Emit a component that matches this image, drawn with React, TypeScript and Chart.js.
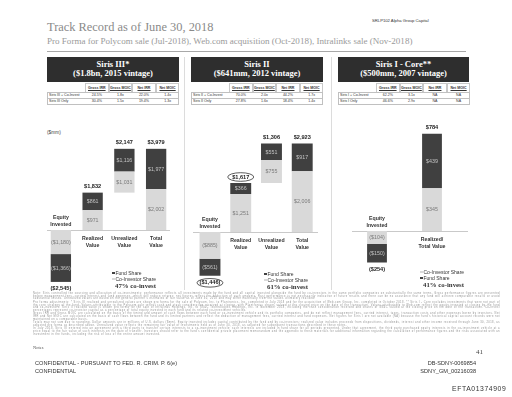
import React, { useEffect, useRef } from "react";
import { Chart, registerables } from "chart.js";
Chart.register(...registerables);

// ---------- DATA ----------
const siris3Categories = ["Equity\nInvested", "Realized\nValue", "Unrealized\nValue", "Total\nValue"];
const siris3CoInvestor = [1180, 971, 1031, 2002];
const siris3Fund = [1366, 861, 1116, 1977];
const siris3Totals = [2545, 1832, 2147, 3979];
const siris3Kinds = ["neg", "up", "float", "up"];

const siris2Categories = ["Equity\nInvested", "Realized\nValue", "Unrealized\nValue", "Total\nValue"];
const siris2CoInvestor = [885, 1251, 755, 2006];
const siris2Fund = [561, 366, 551, 917];
const siris2Totals = [1446, 1617, 1306, 2923];
const siris2Kinds = ["neg", "up", "float", "up"];
const siris2Circled = [true, true, false, false];

const siris1Categories = ["Equity\nInvested", "Realized/\nTotal Value"];
const siris1CoInvestor = [104, 345];
const siris1Fund = [150, 439];
const siris1Totals = [254, 784];
const siris1Kinds = ["neg", "up"];

const tableHeaders = ["Gross IRR", "Gross MOIC", "Net IRR", "Net MOIC"];
const siris3Table = [
  ["Siris III + Co-Invest", "24.5%", "1.8x", "22.0%", "1.4x"],
  ["Siris III Only", "30.4%", "1.5x", "19.4%", "1.3x"],
];
const siris2Table = [
  ["Siris II + Co-Invest", "70.0%", "2.0x", "44.2%", "1.7x"],
  ["Siris II Only", "27.8%", "1.6x", "18.4%", "1.4x"],
];
const siris1Table = [
  ["Siris I + Co-Invest", "62.2%", "3.1x", "NA", "NA"],
  ["Siris I Only", "46.6%", "2.9x", "NA", "NA"],
];

const DARK = "#404040";
const LIGHT = "#d9d9d9";
const SANS = "'Liberation Sans', Arial, sans-serif";
const SERIF = "'Liberation Serif', 'Times New Roman', serif";

const fmt = (n: number) => "$" + n.toLocaleString("en-US");

function buildRanges(co: number[], fund: number[], totals: number[], kinds: string[]) {
  const coR: [number, number][] = [];
  const fundR: [number, number][] = [];
  let running = 0;
  kinds.forEach((k, i) => {
    if (k === "neg") {
      coR.push([-co[i], 0]);
      fundR.push([-totals[i], -co[i]]);
    } else if (k === "float") {
      const b = running;
      coR.push([b, b + co[i]]);
      fundR.push([b + co[i], b + totals[i]]);
    } else {
      coR.push([0, co[i]]);
      fundR.push([co[i], totals[i]]);
      running = totals[i];
    }
  });
  return { coR, fundR };
}

const waterfallPlugin = {
  id: "waterfall",
  beforeDatasetsDraw(chart: any, _a: any, opts: any) {
    const { ctx, scales } = chart;
    const zy = Math.round(scales.y.getPixelForValue(0)) + 0.5;
    ctx.save();
    ctx.strokeStyle = "#c9c9c9";
    ctx.lineWidth = 1;
    ctx.beginPath();
    ctx.moveTo(opts.lineFrom, zy);
    ctx.lineTo(opts.lineTo, zy);
    ctx.stroke();
    ctx.restore();
  },
  afterDatasetsDraw(chart: any, _a: any, opts: any) {
    const { ctx, scales } = chart;
    const zy = scales.y.getPixelForValue(0);
    ctx.save();
    ctx.textAlign = "center";
    ctx.textBaseline = "middle";
    const shares = [opts.co, opts.fund];
    chart.data.datasets.forEach((_ds: any, di: number) => {
      const meta = chart.getDatasetMeta(di);
      meta.data.forEach((bar: any, i: number) => {
        const p = bar.getProps(["x", "y", "base"], true);
        const mid = (p.y + p.base) / 2;
        const v = shares[di][i];
        const t = opts.kinds[i] === "neg" ? "(" + fmt(v) + ")" : fmt(v);
        ctx.font = `5.3px ${SANS}`;
        ctx.fillStyle = di === 0 ? "#7a7a7a" : "#c4c4c4";
        ctx.fillText(t, p.x, mid + 0.3);
      });
    });
    const m0 = chart.getDatasetMeta(0);
    const m1 = chart.getDatasetMeta(1);
    chart.data.labels.forEach((lab: string, i: number) => {
      const b0 = m0.data[i].getProps(["x", "y", "base"], true);
      const b1 = m1.data[i].getProps(["x", "y", "base"], true);
      const top = Math.min(b0.y, b0.base, b1.y, b1.base);
      const bottom = Math.max(b0.y, b0.base, b1.y, b1.base);
      const neg = opts.kinds[i] === "neg";
      const tText = neg ? "(" + fmt(opts.totals[i]) + ")" : fmt(opts.totals[i]);
      const ty = neg ? bottom + 7 : top - 6;
      ctx.font = `bold 5.6px ${SANS}`;
      ctx.fillStyle = "#222";
      ctx.fillText(tText, b0.x, ty);
      if (opts.circled && opts.circled[i]) {
        ctx.strokeStyle = "#333";
        ctx.lineWidth = 0.8;
        ctx.beginPath();
        ctx.ellipse(b0.x, ty, 13, 4.3, 0, 0, Math.PI * 2);
        ctx.stroke();
      }
      const lines = lab.split("\n");
      ctx.font = `bold 5.2px ${SANS}`;
      ctx.fillStyle = "#333";
      const ys = neg ? [zy - 12.5, zy - 5.5] : [zy + 8.5, zy + 15.5];
      lines.forEach((ln, k) => ctx.fillText(ln, b0.x, ys[k]));
    });
    ctx.restore();
  },
};

type Cfg = {
  categories: string[];
  co: number[];
  fund: number[];
  totals: number[];
  kinds: string[];
  circled?: boolean[];
  left: number;
  width: number;
  padL: number;
  padR: number;
  yMin: number;
  yMax: number;
  lineFrom: number;
  lineTo: number;
  barPct: number;
};

const CANVAS_TOP = 110;
const CANVAS_H = 190;

function Waterfall({ cfg }: { cfg: Cfg }) {
  const ref = useRef<HTMLCanvasElement>(null);
  useEffect(() => {
    const { coR, fundR } = buildRanges(cfg.co, cfg.fund, cfg.totals, cfg.kinds);
    const chart = new Chart(ref.current as HTMLCanvasElement, {
      type: "bar",
      data: {
        labels: cfg.categories,
        datasets: [
          {
            label: "Co-Investor Share",
            data: coR as any,
            backgroundColor: LIGHT,
            borderWidth: 0,
            categoryPercentage: 1,
            barPercentage: cfg.barPct,
          },
          {
            label: "Fund Share",
            data: fundR as any,
            backgroundColor: DARK,
            borderWidth: 0,
            categoryPercentage: 1,
            barPercentage: cfg.barPct,
          },
        ],
      },
      options: {
        animation: false,
        responsive: false,
        maintainAspectRatio: false,
        layout: { padding: { left: cfg.padL, right: cfg.padR, top: 0, bottom: 0 } },
        scales: {
          x: { display: false, stacked: true, offset: true },
          y: { display: false, stacked: false, min: cfg.yMin, max: cfg.yMax },
        },
        plugins: {
          legend: { display: false },
          tooltip: { enabled: false },
          waterfall: {
            co: cfg.co,
            fund: cfg.fund,
            totals: cfg.totals,
            kinds: cfg.kinds,
            circled: cfg.circled,
            lineFrom: cfg.lineFrom,
            lineTo: cfg.lineTo,
          },
        } as any,
      },
      plugins: [waterfallPlugin as any],
    });
    return () => chart.destroy();
  }, []);
  return (
    <canvas
      ref={ref}
      width={cfg.width}
      height={CANVAS_H}
      style={{ position: "absolute", left: cfg.left, top: CANVAS_TOP, width: cfg.width, height: CANVAS_H }}
    />
  );
}

function PanelHeader({ left, width, l1, l2 }: { left: number; width: number; l1: string; l2: string }) {
  return (
    <div
      style={{
        position: "absolute",
        left,
        top: 57,
        width,
        height: 25,
        background: "#2e2e2e",
        color: "#fff",
        fontFamily: SERIF,
        fontWeight: "bold",
        fontSize: 8.5,
        lineHeight: "9.5px",
        textAlign: "center",
        paddingTop: 2.5,
        boxSizing: "border-box",
      }}
    >
      <div>{l1}</div>
      <div>{l2}</div>
    </div>
  );
}

function PerfTable({ left, rows }: { left: number; rows: string[][] }) {
  const labelW = 38;
  const colW = 23.6;
  const W = labelW + colW * 4;
  const cell = (key: string, t: string, x: number, y: number, h: number, w: number, extra: any = {}) => (
    <div
      key={key}
      style={{
        position: "absolute",
        left: x,
        top: y,
        width: w,
        height: h,
        lineHeight: h + "px",
        fontSize: 3.6,
        fontFamily: SANS,
        color: "#333",
        whiteSpace: "nowrap",
        overflow: "hidden",
        boxSizing: "border-box",
        ...extra,
      }}
    >
      {t}
    </div>
  );
  return (
    <div style={{ position: "absolute", left, top: 83, width: W, height: 22 }}>
      {tableHeaders.map((h, k) =>
        cell("h" + k, h, labelW + k * colW, 0, 8.5, colW, {
          textAlign: "center",
          fontWeight: "bold",
          textDecoration: "underline",
          border: "0.5px solid #c8c8c8",
          borderBottom: "none",
        })
      )}
      <div style={{ position: "absolute", left: 0, top: 8.5, width: W, height: 13.5, border: "0.5px solid #c0c0c0", boxSizing: "border-box" }} />
      <div style={{ position: "absolute", left: 0, top: 15.2, width: W, height: 0, borderTop: "0.5px solid #c0c0c0" }} />
      {rows.map((r, ri) =>
        r.map((t, ci) =>
          ci === 0
            ? cell(`r${ri}c${ci}`, t, 2, 8.5 + ri * 6.7, 6.7, labelW - 2, { textAlign: "left" })
            : cell(`r${ri}c${ci}`, t, labelW + (ci - 1) * colW, 8.5 + ri * 6.7, 6.7, colW, { textAlign: "center" })
        )
      )}
    </div>
  );
}

function Legend({ left, top, order, pct }: { left: number; top: number; order: string[]; pct: string }) {
  return (
    <div style={{ position: "absolute", left, top, fontFamily: SANS, fontSize: 5, color: "#333", lineHeight: "6px" }}>
      {order.map((o) => (
        <div key={o} style={{ display: "flex", alignItems: "center", whiteSpace: "nowrap" }}>
          <span
            style={{
              display: "inline-block",
              width: 2.5,
              height: 2.5,
              marginRight: 1,
              background: o === "Fund Share" ? DARK : LIGHT,
            }}
          />
          {o}
        </div>
      ))}
      <div style={{ fontFamily: SERIF, fontWeight: "bold", fontSize: 6.8, lineHeight: "8px", whiteSpace: "nowrap", marginLeft: 3 }}>
        {pct}
      </div>
    </div>
  );
}

const footnotes = [
  "Note: Siris controlled the sourcing and allocation of co-investments; performance reflects all investments made by the fund and all capital invested alongside the fund by co-investors in the same portfolio companies on substantially the same terms. Gross performance figures are presented before management fees, carried interest and fund expenses, which will reduce returns; net figures reflect the deduction of such amounts. Past performance is not necessarily indicative of future results and there can be no assurance that any fund will achieve comparable results or avoid substantial losses. Unrealized values are based on the general partner's estimates of fair value as of June 30, 2018 and may differ materially from the values ultimately realized.",
  "Pro forma adjustments: * Siris III realized and unrealized values are shown pro forma for the sale of Polycom, Inc. to Plantronics, Inc. completed in July 2018 and for the acquisition of Web.com Group, Inc. completed in October 2018. ** Siris I - Core excludes investments that were not part of the core strategy of the fund. Values attributable to the Polycom sale reflect cash and stock consideration received at closing, with Plantronics shares valued at the closing price on the date of the transaction. Values attributable to Web.com reflect the equity invested at closing by the fund and co-investors. Siris II realized value is shown pro forma for the sale of Intralinks Holdings, Inc. to SS&C Technologies Holdings, Inc. in November 2018, including the cash consideration received and shares of SS&C valued at the closing price on the date of the transaction. Co-invest percentages represent co-investor capital as a percentage of total equity invested in each fund and its related co-investment vehicles.",
  "Gross IRR and Gross MOIC are calculated on the basis of the timing and amount of cash flows between each fund or co-investment vehicle and its portfolio companies, and do not reflect management fees, carried interest, taxes, transaction costs and other expenses borne by investors. Net IRR and Net MOIC are calculated on the basis of cash flows between the fund and its limited partners and reflect the deduction of management fees, carried interest and fund expenses. Net figures for Siris I are not available (NA) because the fund's historical capital account records were not maintained on a comparable basis.",
  "Totals may not sum due to rounding. Dollar amounts are in millions of U.S. dollars ($mm). Equity invested includes capital contributed by the fund and by co-investors; realized value includes proceeds from dispositions, dividends, interest and other income received through June 30, 2018, as adjusted pro forma as described above. Unrealized value reflects the remaining fair value of investments held as of June 30, 2018, as adjusted for subsequent transactions described in these notes.",
  "In July 2018, Siris III entered into an agreement with a third party to transfer certain interests to a co-investment vehicle; such interests are included in fund share for all periods presented. Under that agreement, the third party purchased equity interests in the co-investment vehicle at a price equal to the fair value of such interests on the date of transfer. Investors should refer to the fund's confidential private placement memorandum and the appendix to these materials for additional information regarding the calculation of performance figures and the risks associated with an investment in the funds, including the risk of loss of the entire amount invested.",
];

export default function App() {
  const c1: Cfg = {
    categories: siris3Categories, co: siris3CoInvestor, fund: siris3Fund, totals: siris3Totals, kinds: siris3Kinds,
    left: 44, width: 138, padL: 1, padR: 10, yMin: -3431, yMax: 5882, lineFrom: 3, lineTo: 126, barPct: 0.64,
  };
  const c2: Cfg = {
    categories: siris2Categories, co: siris2CoInvestor, fund: siris2Fund, totals: siris2Totals, kinds: siris2Kinds,
    circled: siris2Circled,
    left: 186, width: 142, padL: 8.6, padR: 10.4, yMin: -2244, yMax: 4026, lineFrom: 7, lineTo: 132, barPct: 0.68,
  };
  const c3: Cfg = {
    categories: siris1Categories, co: siris1CoInvestor, fund: siris1Fund, totals: siris1Totals, kinds: siris1Kinds,
    left: 334, width: 141, padL: 15.5, padR: 15.5, yMin: -556, yMax: 976, lineFrom: 18, lineTo: 134, barPct: 0.36,
  };
  const abs = (s: any) => ({ position: "absolute" as const, ...s });
  return (
    <div style={{ position: "absolute", left: 0, top: 0, width: 512, height: 397, background: "#fff", overflow: "hidden" }}>
      <div style={abs({ left: 372, top: 18, fontFamily: SANS, fontSize: 4.2, color: "#333", whiteSpace: "nowrap" })}>
        SRLP102 Alpha Group Capital
      </div>
      <div style={abs({ left: 47, top: 20, fontFamily: SERIF, fontSize: 12.4, color: "#8a8a8a", whiteSpace: "nowrap" })}>
        Track Record as of June 30, 2018
      </div>
      <div style={abs({ left: 47, top: 36, fontFamily: SERIF, fontSize: 9.05, color: "#9a9a9a", whiteSpace: "nowrap" })}>
        Pro Forma for Polycom sale (Jul-2018), Web.com acquisition (Oct-2018), Intralinks sale (Nov-2018)
      </div>
      <div style={abs({ left: 47, top: 51, width: 419, height: 0, borderTop: "1px solid #a8a8a8" })} />

      <PanelHeader left={47} width={132} l1="Siris III*" l2="($1.8bn, 2015 vintage)" />
      <PanelHeader left={191} width={132} l1="Siris II" l2="($641mm, 2012 vintage)" />
      <PanelHeader left={338} width={131} l1="Siris I - Core**" l2="($500mm, 2007 vintage)" />

      <PerfTable left={47} rows={siris3Table} />
      <PerfTable left={191} rows={siris2Table} />
      <PerfTable left={338} rows={siris1Table} />

      <div style={abs({ left: 184, top: 57, width: 0, height: 233, borderLeft: "1px solid #dcdcdc" })} />
      <div style={abs({ left: 331, top: 57, width: 0, height: 233, borderLeft: "1px solid #dcdcdc" })} />

      <div style={abs({ left: 47, top: 130, fontFamily: SANS, fontSize: 4.8, color: "#444" })}>($mm)</div>

      <Waterfall cfg={c1} />
      <Waterfall cfg={c2} />
      <Waterfall cfg={c3} />

      <Legend left={112} top={270} order={["Fund Share", "Co-Investor Share"]} pct="47% co-invest" />
      <Legend left={264} top={271} order={["Fund Share", "Co-Investor Share"]} pct="61% co-invest" />
      <Legend left={420} top={269} order={["Co-Investor Share", "Fund Share"]} pct="41% co-invest" />

      <div
        style={abs({
          left: 33, top: 293, width: 467, fontFamily: SANS, fontSize: 2.6, lineHeight: "2.65px",
          color: "#909090", textAlign: "justify", letterSpacing: 0.45,
        })}
      >
        {footnotes.map((f, i) => (
          <div key={i} style={{ marginBottom: 0.9 }}>{f}</div>
        ))}
      </div>
      <div style={abs({ left: 33, top: 345, fontFamily: SERIF, fontSize: 4.5, color: "#555" })}>Notes</div>
      <div style={abs({ left: 476, top: 348, fontFamily: SERIF, fontSize: 7, color: "#444" })}>41</div>

      <div style={abs({ left: 35, top: 359, fontFamily: SANS, fontSize: 5.6, color: "#333", whiteSpace: "nowrap", lineHeight: "8px" })}>
        <div>CONFIDENTIAL - PURSUANT TO FED. R. CRIM. P. 6(e)</div>
        <div>CONFIDENTIAL</div>
      </div>
      <div style={abs({ right: 36, top: 359, fontFamily: SANS, fontSize: 5.6, color: "#333", whiteSpace: "nowrap", lineHeight: "8px", textAlign: "right" })}>
        <div>DB-SDNY-0069854</div>
        <div>SDNY_GM_00216038</div>
      </div>
      <div style={abs({ left: 452, top: 385, fontFamily: SANS, fontSize: 6.8, color: "#333", letterSpacing: 0.6, whiteSpace: "nowrap" })}>
        EFTA01374909
      </div>
    </div>
  );
}
